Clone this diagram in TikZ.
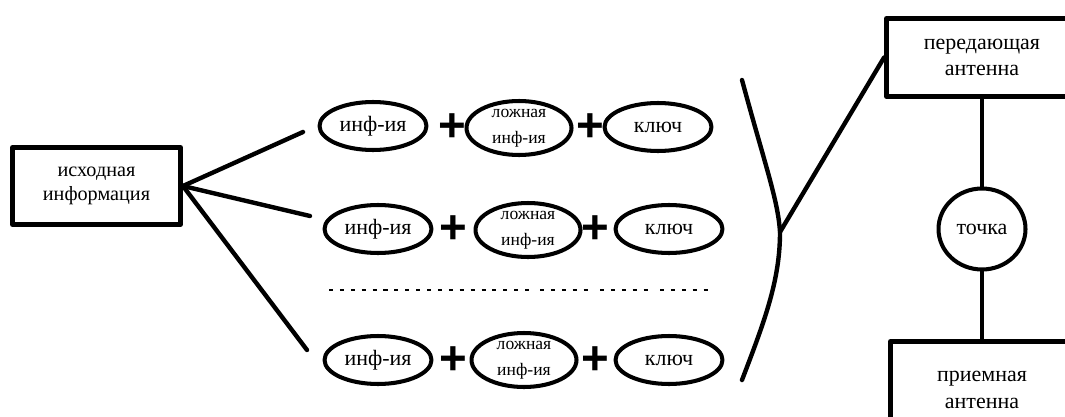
\documentclass[tikz,border=0pt]{standalone}
\usepackage{fontspec}
\setmainfont{Liberation Serif}
\newfontfamily\tnr{Liberation Serif}
\newfontfamily\arial{Liberation Sans}
\usetikzlibrary{shapes.geometric}
\begin{document}
\begin{tikzpicture}[line cap=round,line join=round,x=0.02cm,y=-0.02cm,
  box/.style={draw,line width=2.8pt,align=center,inner sep=0pt},
  oval/.style={draw,ellipse,line width=2.3pt,inner sep=0pt,minimum width=2.14cm,minimum height=0.96cm,font=\tnr\fontsize{12.5}{15}\selectfont},
  fake/.style={oval,minimum width=2.1cm,minimum height=1.08cm,align=center,font=\tnr\fontsize{10}{14.5}\selectfont},
  plus/.style={inner sep=0pt,font=\arial\bfseries\fontsize{27}{27}\selectfont},
  link/.style={line width=2.5pt}]
\useasboundingbox (0,0) rectangle (1065,416);
% source
\node[box,minimum width=3.36cm,minimum height=1.54cm,font=\tnr\fontsize{11.5}{13.5}\selectfont] (src) at (96.5,186) {исходная\\информация};
\coordinate (a1) at (303,132);
\coordinate (a2) at (310,216);
\coordinate (a3) at (307,350);
\draw[link] (src.east)--(a1);
\draw[link] (src.east)--(a2);
\draw[link] (src.east)--(a3);
% row 1
\node[oval] (i1) at (373,126) {инф-ия};
\node[plus] (p1) at (452,128) {+};
\node[fake] (f1) at (519,128) {ложная\\инф-ия};
\node[plus] (q1) at (590,128) {+};
\node[oval] (k1) at (658,127) {ключ};
% row 2
\node[oval] (i2) at (378,229) {инф-ия};
\node[plus] (p2) at (453,230) {+};
\node[fake] (f2) at (528,230) {ложная\\инф-ия};
\node[plus] (q2) at (595,230) {+};
\node[oval] (k2) at (669,229) {ключ};
% dots
\draw[line width=1.6pt,line cap=butt,dash pattern=on 2.3pt off 3.9pt] (329,290)--(533,290);
\draw[line width=1.6pt,line cap=butt,dash pattern=on 2.3pt off 3.9pt] (540,290)--(593,290);
\draw[line width=1.6pt,line cap=butt,dash pattern=on 2.3pt off 3.9pt] (600,290)--(653,290);
\draw[line width=1.6pt,line cap=butt,dash pattern=on 2.3pt off 3.9pt] (660,290)--(713,290);
% row 3
\node[oval] (i3) at (378,360) {инф-ия};
\node[plus] (p3) at (453,361) {+};
\node[fake] (f3) at (524,360) {ложная\\инф-ия};
\node[plus] (q3) at (595,361) {+};
\node[oval] (k3) at (669,360) {ключ};
% brace
\coordinate (b0) at (742,80);
\coordinate (bm) at (780,232);
\coordinate (b1) at (742,380);
\draw[link] (b0) .. controls (765,165) and (778,200) .. (bm) .. controls (780,280) and (765,320) .. (b1);
% antennas
\node[box,minimum width=3.82cm,minimum height=1.56cm,font=\tnr\fontsize{12.5}{15}\selectfont] (tx) at (982,57.5) {передающая\\антенна};
\node[oval,minimum width=1.74cm,minimum height=1.62cm,font=\tnr\fontsize{12.5}{15}\selectfont] (pt) at (982,229) {точка};
\node[box,minimum width=3.66cm,minimum height=1.94cm,font=\tnr\fontsize{12.5}{15}\selectfont] (rx) at (982,390) {приемная\\антенна};
\draw[link] (bm)--(tx.west);
\draw[link] (tx.south)--(pt.north);
\draw[link] (pt.south)--(rx.north);
\end{tikzpicture}
\end{document}
